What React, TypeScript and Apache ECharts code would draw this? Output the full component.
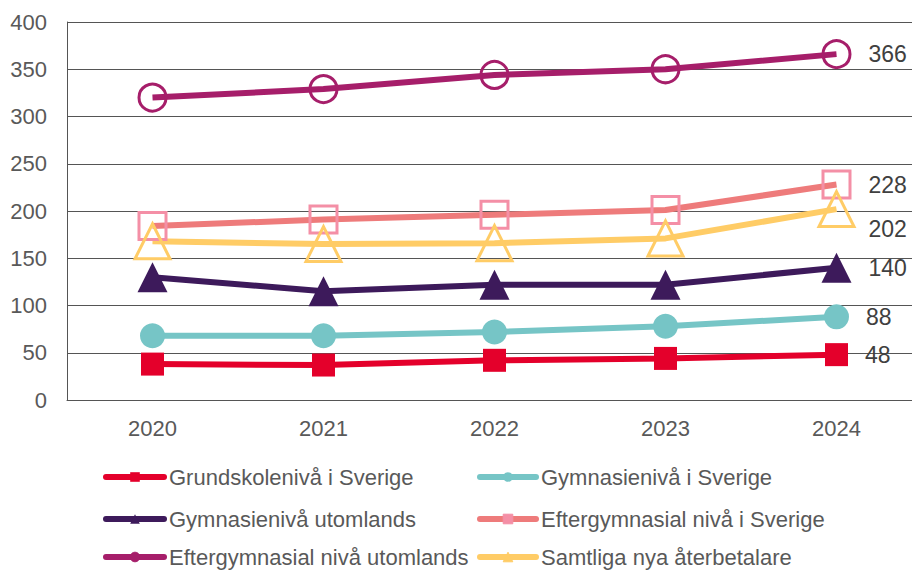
import React, { useEffect, useRef } from "react";
import * as echarts from "echarts";

const years = ["2020", "2021", "2022", "2023", "2024"];
const grundskolaSverige = [38, 37, 42, 44, 48];
const gymnasieSverige = [68, 68, 72, 78, 88];
const gymnasieUtomlands = [130, 115, 122, 122, 140];
const eftergymnasialSverige = [184, 191, 196, 201, 228];
const eftergymnasialUtomlands = [320, 329, 344, 350, 366];
const samtliga = [168, 165, 166, 171, 202];

const FONT = "Liberation Sans, Arial, sans-serif";

export default function App() {
  const ref = useRef<HTMLDivElement>(null);
  useEffect(() => {
    const chart = echarts.init(ref.current!, null, { renderer: "svg" });
    const mk = (
      name: string,
      values: number[],
      lineColor: string,
      symbol: string,
      symbolSize: number,
      itemStyle: any,
      labelOffset: number[] = [0, 0]
    ) => ({
      name,
      type: "line",
      data: values.map((v, i) =>
        i === values.length - 1
          ? {
              value: v,
              label: {
                show: true,
                position: "right",
                distance: 17,
                offset: labelOffset,
                color: "#404040",
                fontSize: 23,
                fontFamily: FONT,
              },
            }
          : v
      ),
      color: lineColor,
      symbol,
      symbolSize,
      showAllSymbol: true,
      lineStyle: { color: lineColor, width: 6 },
      itemStyle,
      emphasis: { disabled: true },
    });

    const legendText = { color: "#595959", fontSize: 22, fontFamily: FONT, lineHeight: 22 };
    const legendPos = [
      { name: "Grundskolenivå i Sverige", left: 103, top: 466, w: 58, fill: null },
      { name: "Gymnasienivå i Sverige", left: 477, top: 466, w: 56, fill: null },
      { name: "Gymnasienivå utomlands", left: 103, top: 508, w: 58, fill: null },
      { name: "Eftergymnasial nivå i Sverige", left: 477, top: 508, w: 56, fill: "#F48FA6" },
      { name: "Eftergymnasial nivå utomlands", left: 103, top: 546, w: 58, fill: "#A61E6A" },
      { name: "Samtliga nya återbetalare", left: 477, top: 546, w: 56, fill: "#FFCC66" },
    ];

    chart.setOption({
      animation: false,
      grid: { left: 67, top: 22, width: 855, height: 378 },
      xAxis: {
        type: "category",
        data: years,
        boundaryGap: true,
        axisLine: { show: true, lineStyle: { color: "#555", width: 1 } },
        axisTick: { show: false },
        axisLabel: { color: "#595959", fontSize: 22, fontFamily: FONT, margin: 17 },
      },
      yAxis: {
        type: "value",
        min: 0,
        max: 400,
        interval: 50,
        axisLine: { show: true, lineStyle: { color: "#555", width: 1 } },
        axisTick: { show: false },
        splitLine: { show: true, lineStyle: { color: "#555", width: 1 } },
        axisLabel: { color: "#595959", fontSize: 22, fontFamily: FONT, margin: 20 },
      },
      legend: legendPos.map((l) => ({
        data: [
          l.fill
            ? { name: l.name, itemStyle: { color: l.fill, borderColor: l.fill, borderWidth: 1 } }
            : { name: l.name },
        ],
        left: l.left,
        top: l.top,
        itemWidth: l.w,
        itemHeight: 12,
        itemGap: 0,
        padding: 0,
        textStyle: legendText,
        selectedMode: false,
        lineStyle: { width: 6, cap: "round" },
      })),
      series: [
        mk("Grundskolenivå i Sverige", grundskolaSverige, "#E4002B", "rect", 23, { color: "#E4002B" }),
        mk("Gymnasienivå i Sverige", gymnasieSverige, "#76C5C6", "circle", 25, { color: "#76C5C6" }),
        mk("Gymnasienivå utomlands", gymnasieUtomlands, "#3D1A5B", "triangle", 30, { color: "#3D1A5B" }),
        mk("Eftergymnasial nivå i Sverige", eftergymnasialSverige, "#EE7B7B", "rect", 27, {
          color: "rgba(255,255,255,0)",
          borderColor: "#F48FA6",
          borderWidth: 3,
        }),
        mk("Eftergymnasial nivå utomlands", eftergymnasialUtomlands, "#A61E6A", "circle", 27, {
          color: "rgba(255,255,255,0)",
          borderColor: "#A61E6A",
          borderWidth: 3,
        }),
        mk(
          "Samtliga nya återbetalare",
          samtliga,
          "#FFCC66",
          "triangle",
          35,
          { color: "rgba(255,255,255,0)", borderColor: "#FFCC66", borderWidth: 3 },
          [-4, 20]
        ),
      ],
    });
    return () => chart.dispose();
  }, []);
  return (
    <div
      ref={ref}
      style={{ position: "fixed", left: 0, top: 0, width: 930, height: 571, background: "#fff" }}
    />
  );
}
